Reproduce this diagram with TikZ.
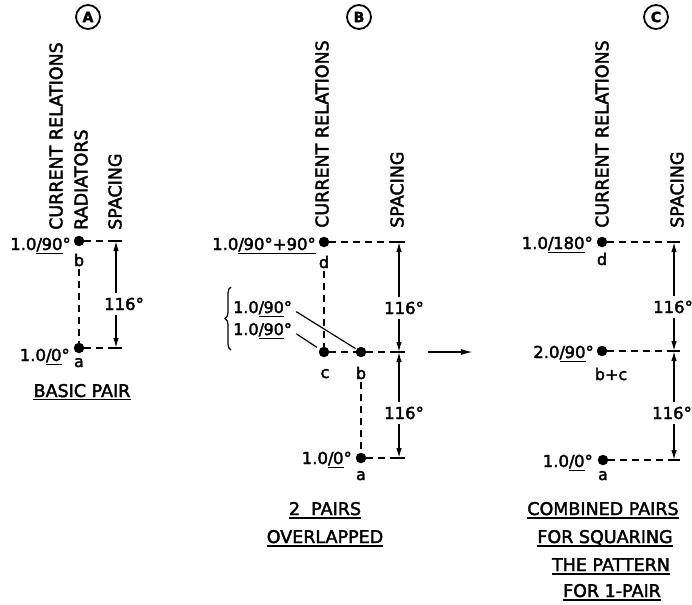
\documentclass[tikz,border=0pt]{standalone}
\usepackage{fontspec}
\setmainfont{DejaVu Sans}[FakeBold=2.2]
\usetikzlibrary{arrows.meta,decorations.pathreplacing}
\newcommand\ulbox[1]{\leavevmode\vtop{\hbox{#1}\kern1.2pt\hrule height 1.3pt}}
\newcommand\pang[1]{\ulbox{/\kern-0.5pt#1}}
\begin{document}
\begin{tikzpicture}[x=1pt,y=-1pt,
 dotn/.style={circle,fill=black,inner sep=0pt,minimum size=10.5pt},
 dsh/.style={line width=1.5pt,dash pattern=on 7pt off 5pt},
 dimln/.style={line width=1.4pt,-{Latex[length=10pt,width=5.5pt]}},
 tick/.style={line width=1.5pt},
 head/.style={rotate=90,anchor=west,inner sep=0pt,font=\fontsize{17.5}{20}\selectfont},
 phs/.style={anchor=base east,inner sep=0pt,font=\fontsize{16.5}{18}\selectfont},
 phw/.style={anchor=base west,inner sep=0pt,font=\fontsize{16}{18}\selectfont},
 ltr/.style={anchor=base,inner sep=0pt,font=\fontsize{16}{18}\selectfont},
 deg/.style={inner xsep=0pt,inner ysep=5pt,font=\fontsize{16.5}{18}\selectfont},
 ttl/.style={anchor=base,inner sep=0pt,font=\fontsize{17.5}{20}\selectfont},
 circ/.style={circle,draw,line width=1.8pt,inner sep=0pt,minimum size=24pt,font=\bfseries\fontsize{14}{16}\selectfont},
 ulin/.style={line width=1.3pt}
]
\useasboundingbox (0,0) rectangle (692,604);

% ---------------- Panel A ----------------
\node[circ] (cA) at (88,17) {A};
\node[head] (hA1) at (56,230) {CURRENT RELATIONS};
\node[head] (hA2) at (81,230) {RADIATORS};
\node[head] (hA3) at (115,230) {SPACING};
\node[dotn] (Ab) at (79,241) {};
\node[dotn] (Aa) at (79,348) {};
\node[phs] (Abp) at (71,250) {1.0\pang{90}°};
\node[phs] (Aap) at (70,361) {1.0\pang{0}°};
\node[ltr] (Abl) at (79,266) {b};
\node[ltr] (Aal) at (79,367) {a};
\coordinate (Atop) at (116,241);
\coordinate (Abot) at (116,348);
\node[deg] (Ad) at (124,304) {116°};
\draw[dsh] (Ab) -- (Atop);
\draw[dsh] (Aa) -- (Abot);
\draw[dsh,shorten <=3pt] (Abl) -- (Aa);
\draw[tick] ([xshift=-6pt]Atop) -- ([xshift=6pt]Atop);
\draw[tick] ([xshift=-6pt]Abot) -- ([xshift=6pt]Abot);
\draw[dimln] (Ad.north -| Atop) -- (Atop);
\draw[dimln] (Ad.south -| Abot) -- (Abot);
\node[ttl] (tA) at (82,397) {BASIC PAIR};
\draw[ulin] ([yshift=-2.5pt]tA.base west) -- ([yshift=-2.5pt]tA.base east);

% ---------------- Panel B ----------------
\node[circ] (cB) at (359,17) {B};
\node[head] (hB1) at (322,228) {CURRENT RELATIONS};
\node[head] (hB3) at (397,228) {SPACING};
\node[dotn] (Bd) at (324,242) {};
\node[dotn] (Bc) at (324,352) {};
\node[dotn] (Bb) at (361,352) {};
\node[dotn] (Ba) at (361,458) {};
\node[phs] (Bdp) at (316,250) {1.0\pang{90°+90°}};
\node[phs] (Bap) at (352,464) {1.0\pang{0}°};
\node[phw] (Bt1) at (233,313) {1.0\pang{90}°};
\node[phw] (Bt2) at (233,335) {1.0\pang{90}°};
\draw[line width=1.2pt,decorate,decoration={brace,amplitude=6pt}] (231,350) -- (231,287);
\draw[line width=1.2pt,shorten <=5pt,shorten >=1pt] (Bt1.east) -- (Bb);
\draw[line width=1.2pt,shorten <=5pt,shorten >=3pt] (Bt2.east) -- (Bc);
\node[ltr] (Bdl) at (324,268) {d};
\node[ltr] (Bcl) at (325,378) {c};
\node[ltr] (Bbl) at (361,379) {b};
\node[ltr] (Bal) at (361,480) {a};
\coordinate (Btop) at (399,242);
\coordinate (Bmid) at (399,352);
\coordinate (Bbot) at (399,458);
\node[deg] (Bd1) at (404,308) {116°};
\node[deg] (Bd2) at (404,413) {116°};
\draw[dsh] (Bd) -- (Btop);
\draw[dsh] (Bc) -- (Bb);
\draw[dsh] (Bb) -- (Bmid);
\draw[dsh] (Ba) -- (Bbot);
\draw[dsh,shorten <=3pt] (Bdl) -- (Bc);
\draw[dsh,shorten <=3pt] (Bbl) -- (Ba);
\draw[tick] ([xshift=-6pt]Btop) -- ([xshift=6pt]Btop);
\draw[tick] ([xshift=-6pt]Bmid) -- ([xshift=6pt]Bmid);
\draw[tick] ([xshift=-6pt]Bbot) -- ([xshift=6pt]Bbot);
\draw[dimln] (Bd1.north -| Btop) -- (Btop);
\draw[dimln] (Bd1.south -| Bmid) -- (Bmid);
\draw[dimln] (Bd2.north -| Bmid) -- (Bmid);
\draw[dimln] (Bd2.south -| Bbot) -- (Bbot);
\node[ttl] (tB1) at (325,515) {2 \ PAIRS};
\node[ttl] (tB2) at (325,543) {OVERLAPPED};
\draw[ulin] ([yshift=-3pt]tB1.base west) -- ([yshift=-3pt]tB1.base east);
\draw[ulin] ([yshift=-3pt]tB2.base west) -- ([yshift=-3pt]tB2.base east);

% arrow between B and C
\coordinate (arS) at (428,352);
\coordinate (arE) at (473,352);
\draw[line width=1.6pt,-{Latex[length=12pt,width=6pt]}] (arS) -- (arE);

% ---------------- Panel C ----------------
\node[circ] (cC) at (656,17) {C};
\node[head] (hC1) at (602,228) {CURRENT RELATIONS};
\node[head] (hC3) at (677,228) {SPACING};
\node[dotn] (Cd) at (602,242) {};
\node[dotn] (Cbc) at (602,351) {};
\node[dotn] (Ca) at (603,460) {};
\node[phs] (Cdp) at (593,249) {1.0\pang{180}°};
\node[phs] (Cbcp) at (594,358) {2.0\pang{90}°};
\node[phs] (Cap) at (593,467) {1.0\pang{0}°};
\node[ltr] (Cdl) at (602,265) {d};
\node[ltr] (Cbcl) at (611,380) {b+c};
\node[ltr] (Cal) at (603,480) {a};
\coordinate (Ctop) at (674,242);
\coordinate (Cmid) at (674,351);
\coordinate (Cbot) at (674,460);
\node[deg] (Cd1) at (673,307) {116°};
\node[deg] (Cd2) at (672,413) {116°};
\draw[dsh] (Cd) -- (Ctop);
\draw[dsh] (Cbc) -- (Cmid);
\draw[dsh] (Ca) -- (Cbot);
\draw[tick] ([xshift=-6pt]Ctop) -- ([xshift=6pt]Ctop);
\draw[tick] ([xshift=-6pt]Cmid) -- ([xshift=6pt]Cmid);
\draw[tick] ([xshift=-6pt]Cbot) -- ([xshift=6pt]Cbot);
\draw[dimln] (Cd1.north -| Ctop) -- (Ctop);
\draw[dimln] (Cd1.south -| Cmid) -- (Cmid);
\draw[dimln] (Cd2.north -| Cmid) -- (Cmid);
\draw[dimln] (Cd2.south -| Cbot) -- (Cbot);
\node[ttl] (tC1) at (603,515) {COMBINED PAIRS};
\node[ttl] (tC2) at (605,543) {FOR SQUARING};
\node[ttl] (tC3) at (611,571) {THE PATTERN};
\node[ttl] (tC4) at (612,597) {FOR 1-PAIR};
\foreach \t in {tC1,tC2,tC3,tC4}
  \draw[ulin] ([yshift=-3pt]\t.base west) -- ([yshift=-3pt]\t.base east);
\end{tikzpicture}
\end{document}
